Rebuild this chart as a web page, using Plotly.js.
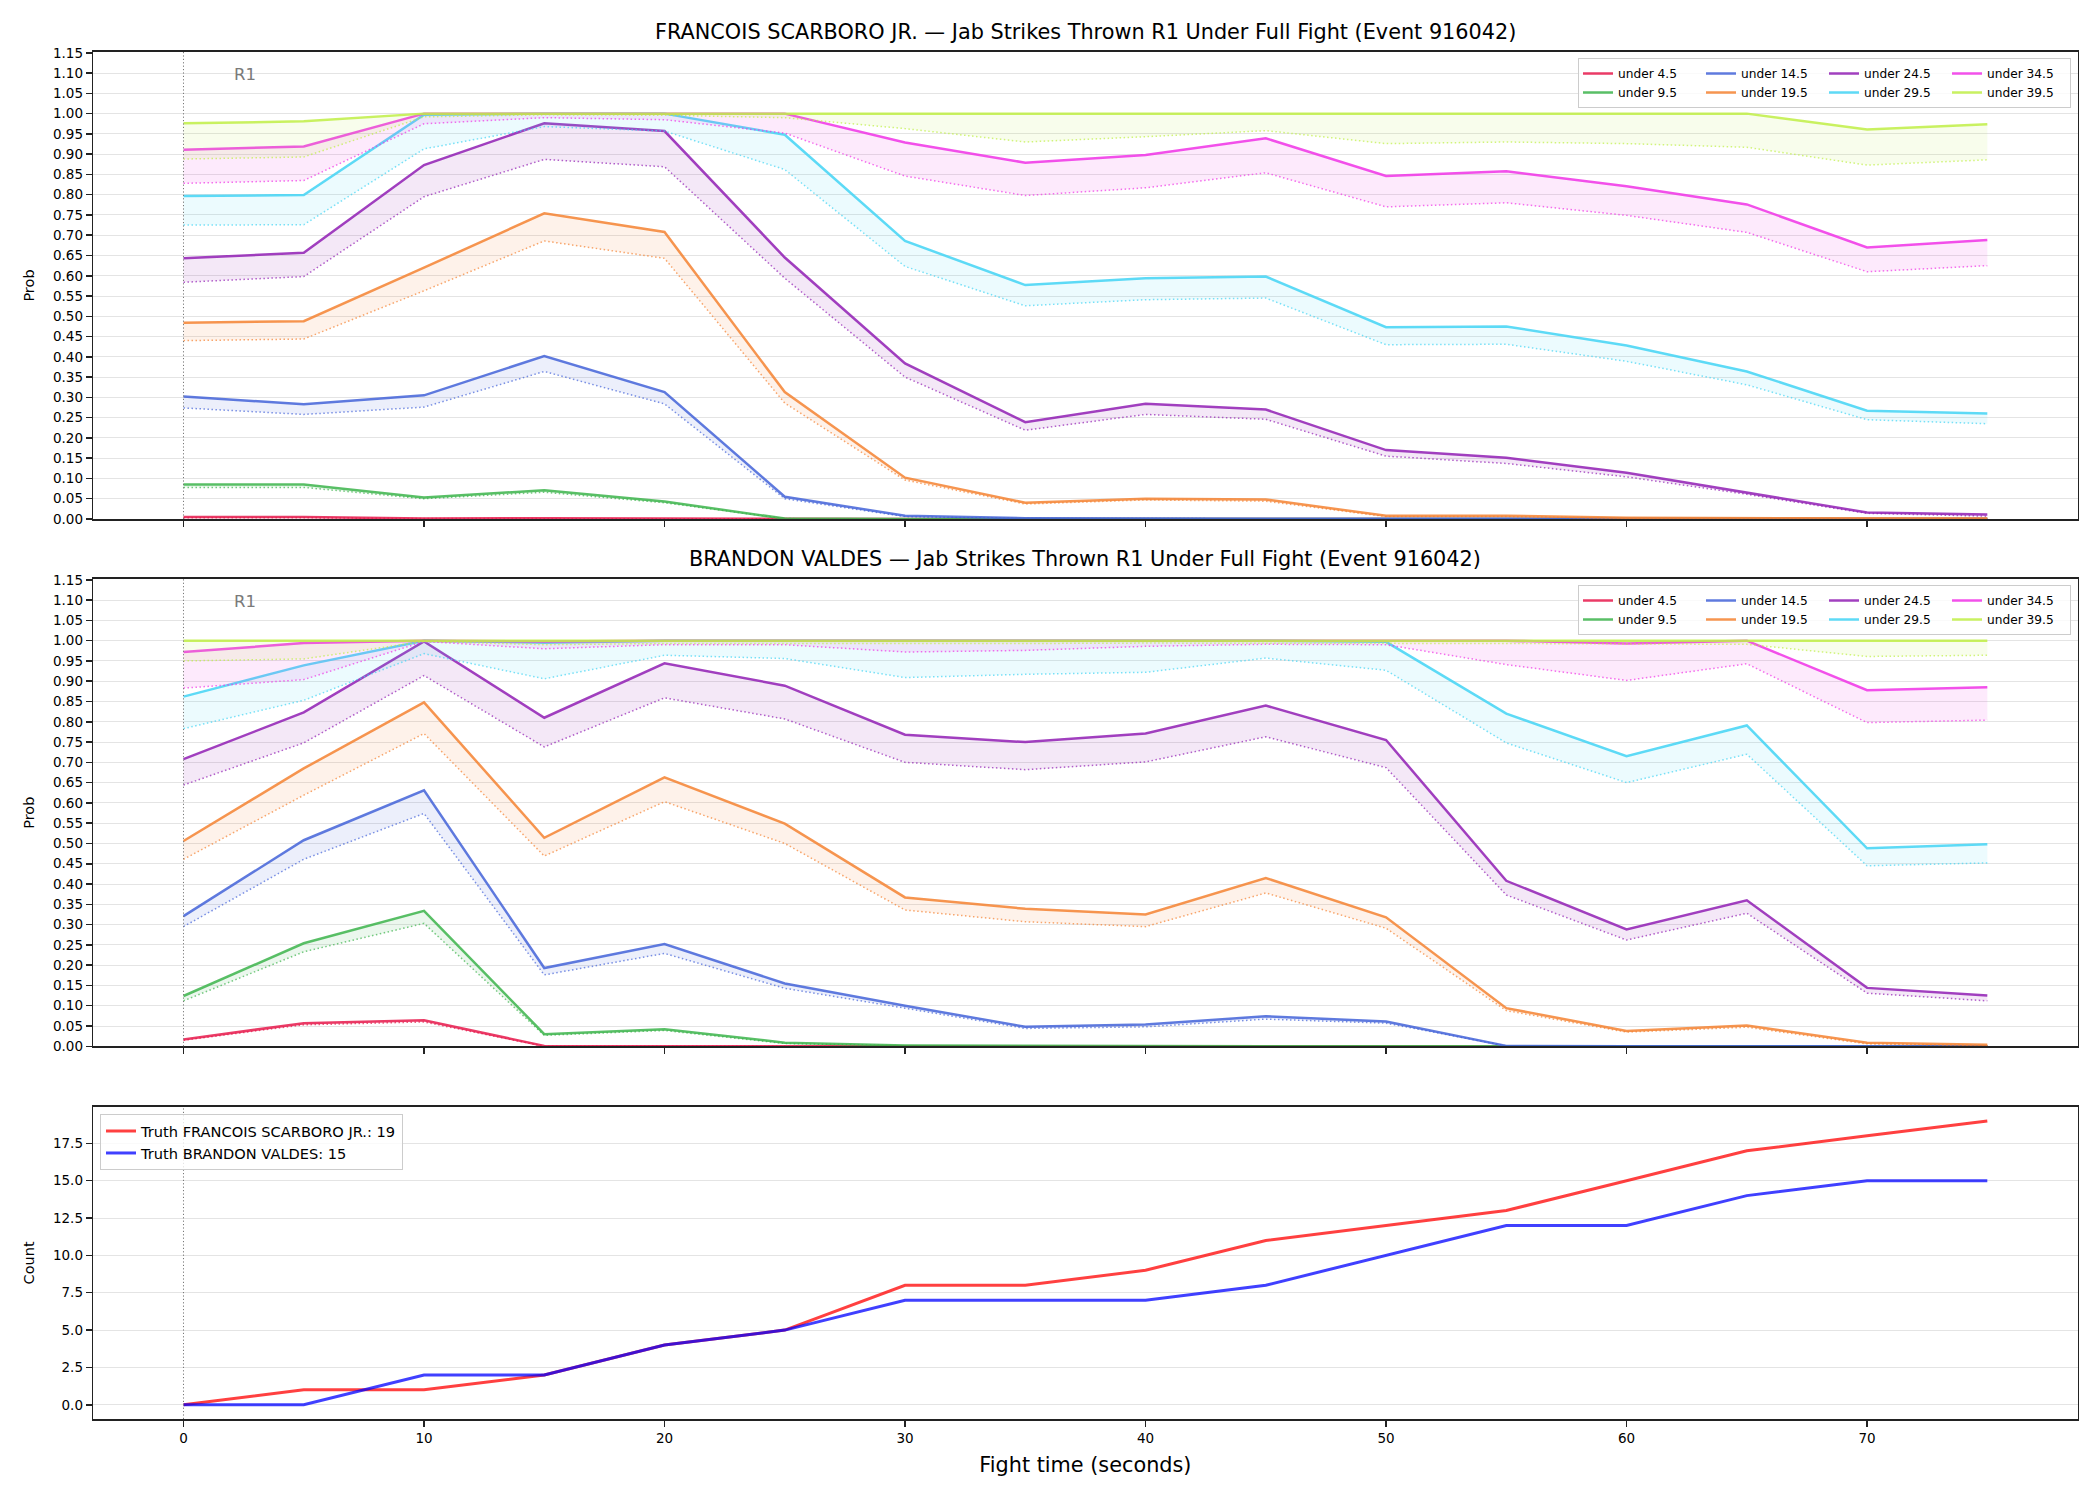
<!DOCTYPE html>
<html>
<head>
<meta charset="utf-8">
<script src="https://cdn.plot.ly/plotly-3.0.1.min.js"></script>
<style>
  html, body { margin: 0; padding: 0; background: #ffffff; }
  #chart { width: 2100px; height: 1500px; }
</style>
</head>
<body>
<div id="chart"></div>
<script>
// Fight time grid (seconds)
const T = [0, 5, 10, 15, 20, 25, 30, 35, 40, 45, 50, 55, 60, 65, 70, 75];

const LINE_LABELS = ['under 4.5', 'under 9.5', 'under 14.5', 'under 19.5',
                     'under 24.5', 'under 29.5', 'under 34.5', 'under 39.5'];
const LINE_COLORS = ['#e6194b', '#3cb44b', '#4363d8', '#f58231',
                     '#911eb4', '#42d4f4', '#f032e6', '#bfef45'];

const FIGHTER_A = 'FRANCOIS SCARBORO JR.';
const FIGHTER_B = 'BRANDON VALDES';
const EVENT_ID = '916042';

// FRANCOIS SCARBORO JR. — upper (solid) and lower (dotted) probability per line
const A_HI_4_5  = [0.005, 0.005, 0.001, 0.002, 0.001, 0, 0, 0, 0, 0, 0, 0, 0, 0, 0, 0];
const A_LO_4_5  = [0.003, 0.003, 0.001, 0.001, 0.001, 0, 0, 0, 0, 0, 0, 0, 0, 0, 0, 0];
const A_HI_9_5  = [0.085, 0.085, 0.053, 0.071, 0.043, 0.001, 0, 0, 0, 0, 0, 0, 0, 0, 0, 0];
const A_LO_9_5  = [0.078, 0.078, 0.050, 0.066, 0.040, 0.001, 0, 0, 0, 0, 0, 0, 0, 0, 0, 0];
const A_HI_14_5 = [0.302, 0.283, 0.305, 0.402, 0.313, 0.055, 0.008, 0.002, 0.001, 0.001, 0, 0, 0, 0, 0, 0];
const A_LO_14_5 = [0.274, 0.258, 0.276, 0.364, 0.284, 0.050, 0.006, 0.001, 0.001, 0.001, 0, 0, 0, 0, 0, 0];
const A_HI_19_5 = [0.484, 0.488, 0.620, 0.754, 0.708, 0.313, 0.102, 0.040, 0.050, 0.048, 0.008, 0.008, 0.003, 0.002, 0.001, 0.001];
const A_LO_19_5 = [0.440, 0.444, 0.563, 0.686, 0.643, 0.286, 0.096, 0.037, 0.047, 0.044, 0.006, 0.006, 0.002, 0.001, 0.001, 0.001];
const A_HI_24_5 = [0.643, 0.657, 0.873, 0.976, 0.957, 0.645, 0.384, 0.239, 0.284, 0.270, 0.170, 0.151, 0.114, 0.065, 0.016, 0.011];
const A_LO_24_5 = [0.584, 0.598, 0.795, 0.887, 0.869, 0.594, 0.350, 0.219, 0.258, 0.246, 0.155, 0.137, 0.104, 0.061, 0.014, 0.007];
const A_HI_29_5 = [0.797, 0.799, 0.997, 1.000, 1.000, 0.948, 0.686, 0.577, 0.594, 0.598, 0.473, 0.475, 0.428, 0.364, 0.267, 0.260];
const A_LO_29_5 = [0.725, 0.726, 0.913, 0.968, 0.957, 0.862, 0.623, 0.526, 0.541, 0.545, 0.430, 0.431, 0.389, 0.331, 0.245, 0.235];
const A_HI_34_5 = [0.911, 0.919, 1.000, 1.000, 1.000, 1.000, 0.929, 0.879, 0.898, 0.939, 0.846, 0.858, 0.821, 0.776, 0.670, 0.688];
const A_LO_34_5 = [0.828, 0.835, 0.975, 0.990, 0.985, 0.952, 0.846, 0.798, 0.817, 0.854, 0.770, 0.780, 0.749, 0.707, 0.610, 0.625];
const A_HI_39_5 = [0.976, 0.981, 1.000, 1.000, 1.000, 1.000, 1.000, 1.000, 1.000, 1.000, 1.000, 1.000, 1.000, 1.000, 0.961, 0.974];
const A_LO_39_5 = [0.888, 0.893, 0.992, 0.997, 0.996, 0.990, 0.963, 0.930, 0.943, 0.958, 0.926, 0.930, 0.926, 0.917, 0.873, 0.886];

// BRANDON VALDES — upper (solid) and lower (dotted) probability per line
const B_HI_4_5  = [0.017, 0.057, 0.064, 0.001, 0, 0, 0, 0, 0, 0, 0, 0, 0, 0, 0, 0];
const B_LO_4_5  = [0.015, 0.053, 0.060, 0.000, 0, 0, 0, 0, 0, 0, 0, 0, 0, 0, 0, 0];
const B_HI_9_5  = [0.124, 0.254, 0.334, 0.030, 0.042, 0.009, 0.002, 0.001, 0, 0, 0, 0, 0, 0, 0, 0];
const B_LO_9_5  = [0.112, 0.233, 0.303, 0.027, 0.039, 0.007, 0.001, 0, 0, 0, 0, 0, 0, 0, 0, 0];
const B_HI_14_5 = [0.321, 0.508, 0.631, 0.193, 0.252, 0.155, 0.100, 0.048, 0.054, 0.074, 0.061, 0.001, 0, 0, 0, 0];
const B_LO_14_5 = [0.295, 0.461, 0.574, 0.176, 0.229, 0.143, 0.094, 0.044, 0.048, 0.067, 0.057, 0.001, 0, 0, 0, 0];
const B_HI_19_5 = [0.506, 0.685, 0.848, 0.514, 0.663, 0.549, 0.367, 0.339, 0.325, 0.415, 0.318, 0.094, 0.038, 0.051, 0.009, 0.004];
const B_LO_19_5 = [0.461, 0.619, 0.771, 0.469, 0.603, 0.500, 0.336, 0.307, 0.295, 0.378, 0.291, 0.088, 0.035, 0.047, 0.006, 0.002];
const B_HI_24_5 = [0.708, 0.823, 0.998, 0.810, 0.944, 0.889, 0.768, 0.750, 0.771, 0.840, 0.755, 0.408, 0.288, 0.360, 0.144, 0.125];
const B_LO_24_5 = [0.644, 0.748, 0.914, 0.738, 0.859, 0.807, 0.700, 0.682, 0.701, 0.763, 0.687, 0.373, 0.262, 0.328, 0.131, 0.112];
const B_HI_29_5 = [0.862, 0.939, 1.000, 0.995, 1.000, 1.000, 1.000, 1.000, 1.000, 1.000, 0.997, 0.820, 0.715, 0.791, 0.488, 0.498];
const B_LO_29_5 = [0.783, 0.853, 0.968, 0.906, 0.964, 0.956, 0.909, 0.917, 0.922, 0.957, 0.927, 0.748, 0.650, 0.720, 0.445, 0.452];
const B_HI_34_5 = [0.972, 0.994, 1.000, 0.998, 1.000, 1.000, 1.000, 1.000, 1.000, 1.000, 1.000, 1.000, 0.993, 1.000, 0.878, 0.885];
const B_LO_34_5 = [0.883, 0.904, 0.998, 0.980, 0.990, 0.990, 0.972, 0.976, 0.986, 0.991, 0.990, 0.941, 0.902, 0.943, 0.798, 0.804];
const B_HI_39_5 = [1.000, 1.000, 1.000, 1.000, 1.000, 1.000, 1.000, 1.000, 1.000, 1.000, 1.000, 1.000, 1.000, 1.000, 1.000, 1.000];
const B_LO_39_5 = [0.950, 0.955, 0.998, 0.990, 0.993, 0.993, 0.992, 0.993, 0.994, 0.994, 0.994, 0.993, 0.992, 0.991, 0.961, 0.964];

// Cumulative jab counts (truth)
const TRUTH_A = [0, 1, 1, 2, 4, 5, 8, 8, 9, 11, 12, 13, 15, 17, 18, 19];
const TRUTH_B = [0, 0, 2, 2, 4, 5, 7, 7, 7, 8, 10, 12, 12, 14, 15, 15];

const ROUND_START = 0;
const ROUND_LABEL = 'R1';

const A_HI = [A_HI_4_5, A_HI_9_5, A_HI_14_5, A_HI_19_5, A_HI_24_5, A_HI_29_5, A_HI_34_5, A_HI_39_5];
const A_LO = [A_LO_4_5, A_LO_9_5, A_LO_14_5, A_LO_19_5, A_LO_24_5, A_LO_29_5, A_LO_34_5, A_LO_39_5];
const B_HI = [B_HI_4_5, B_HI_9_5, B_HI_14_5, B_HI_19_5, B_HI_24_5, B_HI_29_5, B_HI_34_5, B_HI_39_5];
const B_LO = [B_LO_4_5, B_LO_9_5, B_LO_14_5, B_LO_19_5, B_LO_24_5, B_LO_29_5, B_LO_34_5, B_LO_39_5];

function rgba(hex, a) {
  const n = parseInt(hex.slice(1), 16);
  return `rgba(${(n >> 16) & 255},${(n >> 8) & 255},${n & 255},${a})`;
}

const FONT = 'DejaVu Sans, Liberation Sans, sans-serif';
const traces = [];

function addBands(hiSets, loSets, xa, ya, legendId, tag) {
  LINE_LABELS.forEach((label, i) => {
    const c = LINE_COLORS[i];
    // lower bound, dotted
    traces.push({
      x: T, y: loSets[i], xaxis: xa, yaxis: ya, type: 'scatter', mode: 'lines',
      line: { color: rgba(c, 0.7), width: 1.5, dash: '1.5px,2.5px' },
      showlegend: false, hoverinfo: 'skip'
    });
    // band between lower and upper
    traces.push({
      x: T, y: hiSets[i], xaxis: xa, yaxis: ya, type: 'scatter', mode: 'lines',
      line: { width: 0, color: rgba(c, 0) }, fill: 'tonexty', fillcolor: rgba(c, 0.1),
      showlegend: false, hoverinfo: 'skip'
    });
    // upper bound, solid
    traces.push({
      x: T, y: hiSets[i], xaxis: xa, yaxis: ya, type: 'scatter', mode: 'lines',
      name: label, legend: legendId, legendgroup: tag + '-col' + Math.floor(i / 2),
      line: { color: rgba(c, 0.85), width: 2.5 }
    });
  });
}

addBands(A_HI, A_LO, 'x', 'y', 'legend', 'a');
addBands(B_HI, B_LO, 'x2', 'y2', 'legend2', 'b');

traces.push({
  x: T, y: TRUTH_A, xaxis: 'x3', yaxis: 'y3', type: 'scatter', mode: 'lines',
  name: `Truth ${FIGHTER_A}: ${TRUTH_A[TRUTH_A.length - 1]}`, legend: 'legend3',
  line: { color: 'rgba(255,0,0,0.75)', width: 3 }
});
traces.push({
  x: T, y: TRUTH_B, xaxis: 'x3', yaxis: 'y3', type: 'scatter', mode: 'lines',
  name: `Truth ${FIGHTER_B}: ${TRUTH_B[TRUTH_B.length - 1]}`, legend: 'legend3',
  line: { color: 'rgba(0,0,255,0.75)', width: 3 }
});

const X_DOMAIN = [0.04443, 0.98929];
const X_RANGE = [-3.75, 78.75];
const AXIS_LINE = '#222222';
const GRID = '#e4e4e4';

function xAxis(anchor, showLabels) {
  return {
    domain: X_DOMAIN, anchor: anchor, range: X_RANGE,
    tick0: 0, dtick: 10, ticks: 'outside', ticklen: 6, tickwidth: 1.5, tickcolor: AXIS_LINE,
    showline: true, mirror: true, linecolor: AXIS_LINE, linewidth: 1.6,
    showgrid: false, zeroline: false, showticklabels: showLabels,
    tickfont: { family: FONT, size: 13.5, color: '#000' }
  };
}

function yAxis(anchor, domain, range, dtick, fmt, title) {
  return {
    domain: domain, anchor: anchor, range: range,
    tick0: 0, dtick: dtick, tickformat: fmt,
    ticks: 'outside', ticklen: 6, tickwidth: 1.5, tickcolor: AXIS_LINE,
    showline: true, mirror: true, linecolor: AXIS_LINE, linewidth: 1.6,
    showgrid: true, gridcolor: GRID, gridwidth: 1, zeroline: false,
    tickfont: { family: FONT, size: 13.5, color: '#000' },
    title: { text: title, font: { family: FONT, size: 14.5, color: '#000' }, standoff: 15 }
  };
}

const Y1_DOMAIN = [0.654, 0.96533];
const Y2_DOMAIN = [0.30247, 0.614];
const Y3_DOMAIN = [0.054, 0.2622];
const X_MID = (X_DOMAIN[0] + X_DOMAIN[1]) / 2;

const xa3 = xAxis('y3', true);
xa3.title = { text: 'Fight time (seconds)', font: { family: FONT, size: 20.8, color: '#000' }, standoff: 12 };

function panelTitle(name, yTop) {
  return {
    text: `${name} — Jab Strikes Thrown R1 Under Full Fight (Event ${EVENT_ID})`,
    xref: 'paper', yref: 'paper', x: X_MID, y: yTop, xanchor: 'center', yanchor: 'bottom',
    yshift: 6, showarrow: false, font: { family: FONT, size: 20.8, color: '#000' }
  };
}

function roundLabel(xr, yr) {
  return {
    text: ROUND_LABEL, xref: xr, yref: yr, x: ROUND_START + 2, y: 1.097,
    xanchor: 'left', yanchor: 'middle', showarrow: false,
    font: { family: FONT, size: 16.5, color: '#7a7a7a' }
  };
}

function roundLine(xr, yr) {
  return {
    type: 'line', xref: xr, yref: yr + ' domain', x0: ROUND_START, x1: ROUND_START, y0: 0, y1: 1,
    line: { color: '#777777', width: 1, dash: '1.2px,2.2px' }, layer: 'above'
  };
}

function bandLegend(yTop) {
  return {
    x: 0.98619, xanchor: 'right', y: yTop, yanchor: 'top',
    orientation: 'h', traceorder: 'grouped', entrywidth: 78,
    bgcolor: 'rgba(255,255,255,0.8)', bordercolor: '#cccccc', borderwidth: 1,
    font: { family: FONT, size: 12.2, color: '#000' }
  };
}

const layout = {
  width: 2100, height: 1500,
  margin: { l: 0, r: 0, t: 0, b: 0 },
  paper_bgcolor: '#ffffff', plot_bgcolor: '#ffffff',
  font: { family: FONT, color: '#000' },
  xaxis: xAxis('y', false),
  xaxis2: xAxis('y2', false),
  xaxis3: xa3,
  yaxis: yAxis('x', Y1_DOMAIN, [0, 1.152], 0.05, '.2f', 'Prob'),
  yaxis2: yAxis('x2', Y2_DOMAIN, [0, 1.152], 0.05, '.2f', 'Prob'),
  yaxis3: yAxis('x3', Y3_DOMAIN, [-0.95, 19.95], 2.5, '.1f', 'Count'),
  legend: bandLegend(0.96133),
  legend2: bandLegend(0.61),
  legend3: {
    x: 0.04762, xanchor: 'left', y: 0.25733, yanchor: 'top', orientation: 'v',
    bgcolor: 'rgba(255,255,255,0.8)', bordercolor: '#cccccc', borderwidth: 1,
    font: { family: FONT, size: 14.6, color: '#000' }
  },
  annotations: [
    panelTitle(FIGHTER_A, Y1_DOMAIN[1]),
    panelTitle(FIGHTER_B, Y2_DOMAIN[1]),
    roundLabel('x', 'y'),
    roundLabel('x2', 'y2')
  ],
  shapes: [roundLine('x', 'y'), roundLine('x2', 'y2'), roundLine('x3', 'y3')],
  showlegend: true
};

Plotly.newPlot('chart', traces, layout, { displayModeBar: false, staticPlot: true });
</script>
</body>
</html>
